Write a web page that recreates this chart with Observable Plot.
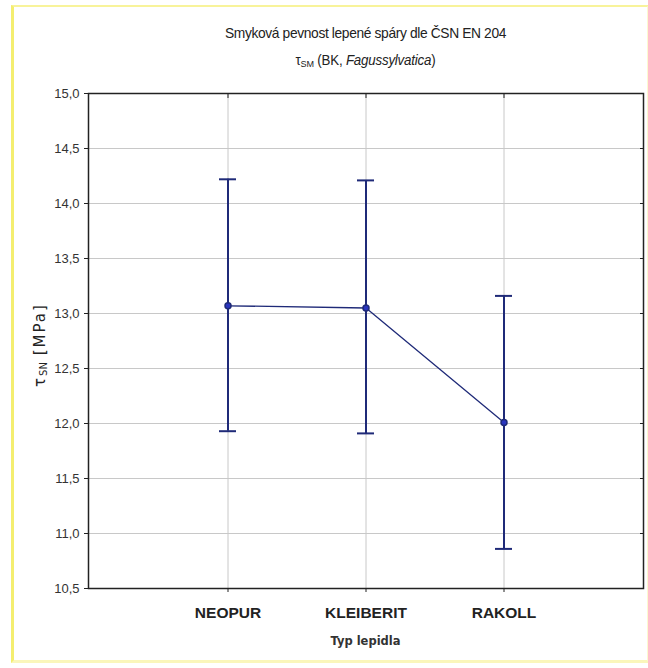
<!DOCTYPE html>
<html>
<head>
<meta charset="utf-8">
<script src="https://cdn.jsdelivr.net/npm/d3@7"></script>
<script src="https://cdn.jsdelivr.net/npm/@observablehq/plot@0.6"></script>
<style>
  html, body { margin: 0; padding: 0; background: #fff; }
  #wrap { position: relative; width: 648px; height: 668px; overflow: hidden; font-family: "Liberation Sans", Arial, sans-serif; }
  #border { position: absolute; left: 11px; top: 5px; width: 633px; height: 653px;
            border-left: 3px solid #f4ee70; border-top: 2px solid #f8f39a; border-bottom: 3px solid #faf6bb; border-right: 2px solid #fcf9d0; pointer-events: none; }
  #chart { position: absolute; left: 0; top: 0; }
  .t { position: absolute; left: 88px; width: 555px; text-align: center; white-space: nowrap; color: #222; }
  #title { top: 24px; font-size: 15px; letter-spacing: -0.4px; transform: scaleX(0.92); }
  #subtitle { top: 52px; font-size: 14px; letter-spacing: -0.2px; transform: scaleX(0.95); }
  #subtitle sub { font-size: 9.5px; vertical-align: -2px; }
  #ylabel { position: absolute; left: 40px; top: 345px; transform: translate(-50%, -50%) rotate(-90deg); white-space: nowrap;
            font-family: "DejaVu Sans", sans-serif; font-size: 15px; letter-spacing: 2px; color: #222; }
  #ylabel sub { font-size: 10px; vertical-align: -2px; letter-spacing: 0; }
  #xlabel { top: 634px; font-family: "DejaVu Sans", sans-serif; font-weight: bold; font-size: 11.5px; color: #333; }
</style>
</head>
<body>
<div id="wrap">
  <div id="chart"></div>
  <div id="border"></div>
  <div class="t" id="title">Smyková pevnost lepené spáry dle ČSN EN 204</div>
  <div class="t" id="subtitle">τ<sub>SM</sub> (BK, <i>Fagussylvatica</i>)</div>
  <div id="ylabel">τ<sub>SN</sub> [MPa]</div>
  <div class="t" id="xlabel">Typ lepidla</div>
</div>
<script>
// Data
const categories = ["NEOPUR", "KLEIBERIT", "RAKOLL"];
const means = [13.07, 13.05, 12.01];
const upper = [14.22, 14.21, 13.16];
const lower = [11.93, 11.91, 10.86];
const yTicks = [10.5, 11.0, 11.5, 12.0, 12.5, 13.0, 13.5, 14.0, 14.5, 15.0];

const data = categories.map((c, i) => ({cat: c, mean: means[i], hi: upper[i], lo: lower[i]}));
const navy = "#1f2a78";
const fmt = d => d3.format(".1f")(d).replace(".", ",");

const chart = Plot.plot({
  width: 648,
  height: 668,
  marginLeft: 88,
  marginRight: 5,
  marginTop: 93,
  marginBottom: 80,
  style: { background: "transparent", fontFamily: "Liberation Sans, sans-serif" },
  x: { type: "band", domain: categories, paddingInner: 0.88, paddingOuter: 0.94, label: null },
  y: { domain: [10.5, 15], label: null },
  marks: [
    Plot.gridY(yTicks, { stroke: "#c8c8c8", strokeOpacity: 1, strokeWidth: 1 }),
    Plot.gridX(categories, { stroke: "#c8c8c8", strokeOpacity: 1, strokeWidth: 1 }),
    Plot.frame({ stroke: "#222", strokeWidth: 1.5 }),
    Plot.axisY(yTicks, { anchor: "left", tickSize: 4, tickPadding: 5, tickFormat: fmt, label: null,
      fontSize: 13, fill: "#333", stroke: "#222" }),
    Plot.axisY(yTicks, { anchor: "right", tickSize: -4, tickFormat: () => "", label: null, stroke: "#222" }),
    Plot.axisX(categories, { anchor: "bottom", tickSize: 4, tickPadding: 14, label: null,
      fontSize: 15.5, fontWeight: "bold", fill: "#222", stroke: "#222",
      style: { fontFamily: "DejaVu Sans, sans-serif" } }),
    Plot.axisX(categories, { anchor: "top", tickSize: -4, tickFormat: () => "", label: null, stroke: "#222" }),
    Plot.line(data, { x: "cat", y: "mean", stroke: navy, strokeWidth: 1.3 }),
    Plot.ruleX(data, { x: "cat", y1: "lo", y2: "hi", stroke: navy, strokeWidth: 2 }),
    Plot.tickY(data, { x: "cat", y: "hi", stroke: navy, strokeWidth: 2 }),
    Plot.tickY(data, { x: "cat", y: "lo", stroke: navy, strokeWidth: 2 }),
    Plot.dot(data, { x: "cat", y: "mean", r: 3, stroke: navy, fill: "#2a35c0", strokeWidth: 1.5 })
  ]
});
document.getElementById("chart").appendChild(chart);
</script>
</body>
</html>
